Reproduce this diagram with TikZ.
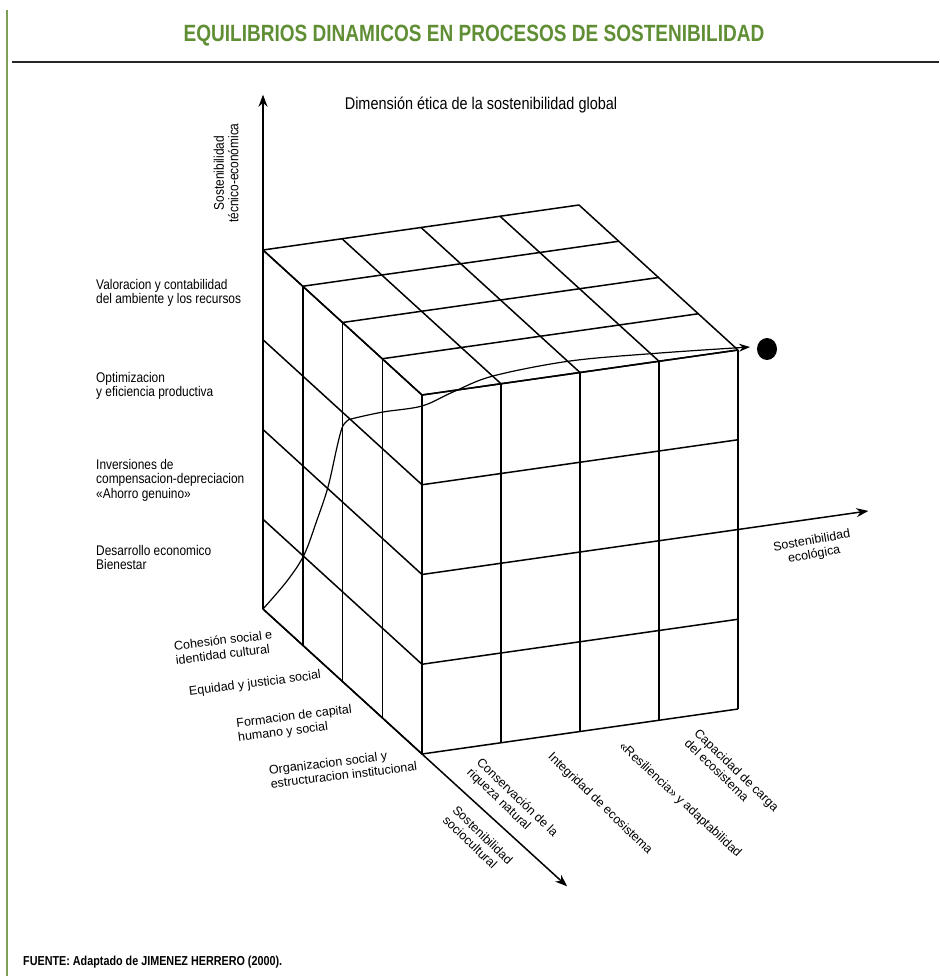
\documentclass[tikz,border=0pt]{standalone}
\usepackage{fontspec}
\setmainfont{Liberation Sans}
\newfontfamily\titlef[FakeStretch=0.81]{Liberation Sans}
\newfontfamily\condf[FakeStretch=0.85]{Liberation Sans}
\newfontfamily\footf[FakeStretch=0.83]{Liberation Sans}
\usetikzlibrary{arrows.meta}
\definecolor{titlegreen}{RGB}{96,142,52}
\definecolor{rulegreen}{RGB}{125,160,85}
\tikzset{
  gridline/.style={line width=1.5pt, black},
  axisline/.style={line width=1.5pt, black, -{Stealth[length=12pt,width=9pt]}},
  pathcurve/.style={line width=1.2pt, black, -{Stealth[length=11pt,width=8pt]}},
  leftlbl/.style={font=\condf\fontsize{14}{14.5}\selectfont, align=left, inner sep=0pt, anchor=north west},
  baselbl/.style={font=\fontsize{12.5}{14}\selectfont, align=left, inner sep=0pt},
}
\begin{document}
\begin{tikzpicture}[x=1pt,y=-1pt]
\useasboundingbox (0,0) rectangle (939,976);
\fill[white] (0,0) rectangle (939,976);
% frame
\draw[line width=2pt, rulegreen] (7,10) -- (7,976);
\draw[line width=2.2pt, black!85] (12,62) -- (939,62);
\node[font=\titlef\bfseries\fontsize{23.5}{26}\selectfont, text=titlegreen] (title) at (474,36) {EQUILIBRIOS DINAMICOS EN PROCESOS DE SOSTENIBILIDAD};

% cube
\begin{scope}[shift={(263,609)}, x={(79pt,11.25pt)}, y={(39.75pt,-36.25pt)}, z={(0pt,89.75pt)}]
  \foreach \i in {0,...,4} {
    \draw[gridline] (\i,0,4) -- (\i,4,4);
    \draw[gridline] (0,\i,4) -- (4,\i,4);
    \draw[gridline] (\i,4,0) -- (\i,4,4);
    \draw[gridline] (0,4,\i) -- (4,4,\i);
    \draw[gridline] (0,\i,0) -- (0,\i,4);
    \draw[gridline] (0,0,\i) -- (0,4,\i);
  }
  \coordinate (O) at (0,0,0);
  \coordinate (ztip) at (0,0,5.73);
  \coordinate (vtip) at (0,7.65,0);
  \coordinate (e0) at (4,4,2);
  \coordinate (etip) at (5.65,4,2);
\end{scope}
\draw[axisline] (O) -- (ztip);
\draw[axisline] (O) -- (vtip);
\draw[axisline] (e0) -- (etip);

% trajectory
\coordinate (ctip) at (750,347);
\draw[pathcurve] plot[smooth, tension=0.55] coordinates {(263,609) (287,581) (304,555) (317,520) (328,487) (337,447) (342,428) (347,421) (353,418.5) (383,412) (422,406) (453,392) (493,376) (570,361) (660,353) (750,347)};
\fill (767,349) ellipse [x radius=10pt, y radius=11pt];

% texts
\node[font=\condf\fontsize{17}{19}\selectfont] (dim) at (481,105) {Dimensión ética de la sostenibilidad global};
\node[font=\condf\fontsize{14}{14.5}\selectfont, align=center, rotate=90] (tec) at (226,173) {Sostenibilidad\\técnico-económica};

\node[leftlbl] (l1) at (96,279) {Valoracion y contabilidad\\del ambiente y los recursos};
\node[leftlbl] (l2) at (96,372) {Optimizacion\\y eficiencia productiva};
\node[leftlbl] (l3) at (96,459) {Inversiones de\\compensacion-depreciacion\\«Ahorro genuino»};
\node[leftlbl] (l4) at (96,545) {Desarrollo economico\\Bienestar};

\node[baselbl, rotate=7] (s1) at (224,647) {Cohesión social e\\identidad cultural};
\node[baselbl, rotate=7.5] (s2) at (255,684) {Equidad y justicia social};
\node[baselbl, rotate=7] (s3) at (295,724) {Formacion de capital\\humano y social};
\node[baselbl, rotate=7] (s4) at (343,768) {Organizacion social y\\estructuracion institucional};

\node[baselbl, rotate=-44] (r0) at (478,840) {Sostenibilidad\\sociocultural};
\node[baselbl, rotate=-44] (r1) at (512,803) {Conservación de la\\riqueza natural};
\node[baselbl, rotate=-44] (r2) at (600,804) {Integridad de ecosistema};
\node[baselbl, rotate=-43] (r3) at (680,800) {«Resiliencia» y adaptabilidad};
\node[baselbl, rotate=-44] (r4) at (732,775) {Capacidad de carga\\del ecosistema};

\node[baselbl, align=center, rotate=10] (eco) at (813,548) {Sostenibilidad\\ecológica};

\node[font=\footf\bfseries\fontsize{13}{15}\selectfont, anchor=west, inner sep=0pt] (fuente) at (23,962) {FUENTE: Adaptado de JIMENEZ HERRERO (2000).};
\end{tikzpicture}
\end{document}
